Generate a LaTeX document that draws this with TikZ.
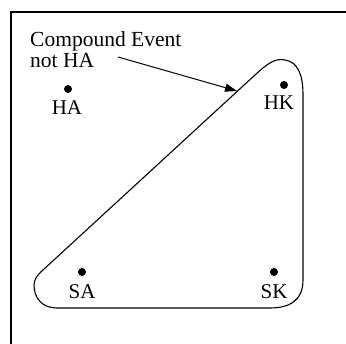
\documentclass[tikz,border=0pt]{standalone}
\usepackage{fontspec}
\setmainfont{Liberation Serif}
\usetikzlibrary{arrows.meta}
\begin{document}
\begin{tikzpicture}[x=1pt,y=-1pt,
  lbl/.style={font=\fontsize{21}{22}\selectfont, inner sep=0pt, anchor=base},
  pt/.style={fill=black, circle, inner sep=0pt, minimum size=8pt},
  edge/.style={line width=1.1pt}]
\useasboundingbox (0,0) rectangle (346,344);
\clip (0,0) rectangle (346,344);
\fill[white] (0,0) rectangle (346,344);
\draw[line width=1.3pt] (11,360) -- (11,12) -- (360,12);
% points
\node[pt] (ha) at (68,89) {};
\node[pt] (hk) at (284,85) {};
\node[pt] (sa) at (82,272) {};
\node[pt] (sk) at (274,272) {};
\node[lbl] (hal) at (67,115) {HA};
\node[lbl] (hkl) at (279,110) {HK};
\node[lbl] (sal) at (82,299) {SA};
\node[lbl] (skl) at (274,299) {SK};
% compound event region
\draw[edge] (255,75) .. controls (268,63) and (275,58) .. (285,60)
  .. controls (298,62) and (303,75) .. (303,95) -- (303,280)
  .. controls (303,300) and (290,308) .. (270,308) -- (57,308)
  .. controls (42,308) and (34,298) .. (34,285)
  .. controls (34,280) and (37,275) .. (43,270) -- cycle;
\coordinate (tip) at (237,91);
% annotation
\node[lbl, anchor=base west, font=\fontsize{21.5}{22}\selectfont] (ce1) at (30,47) {Compound Event};
\node[lbl, anchor=base west, font=\fontsize{21.5}{22}\selectfont] (ce2) at (30,68) {not HA};
\coordinate (start) at (118,57);
\draw[line width=1pt, -{Triangle[length=12pt,width=8pt]}] (start) -- (tip);
\end{tikzpicture}
\end{document}
